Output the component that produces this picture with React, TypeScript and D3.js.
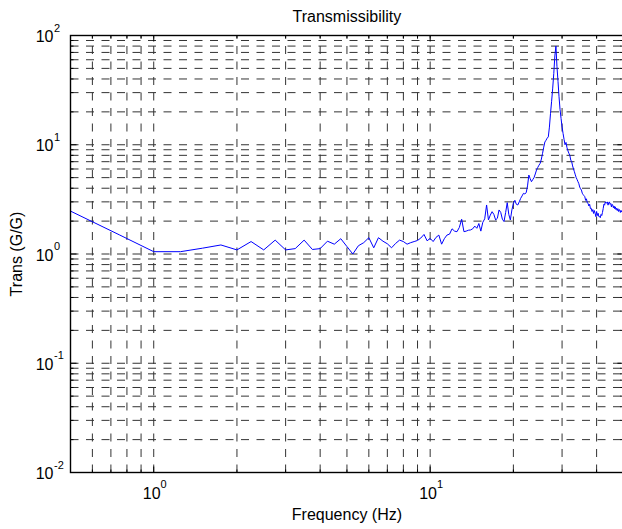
import React from "react";
import * as d3 from "d3";

// ---- data ----
const freqStart = 0.5;
const freqStep = 0.25;
const transValues = [
  2.47, 1.50,
  1.05, 1.05, 1.13, 1.21,
  1.09, 1.30, 1.09, 1.34,
  1.09, 1.12, 1.34, 1.10,
  1.12, 1.31, 1.23, 1.38,
  1.17, 1.00, 1.19, 1.27,
  1.41, 1.14, 1.41, 1.31,
  1.24, 1.14, 1.25, 1.34,
  1.30, 1.23, 1.27, 1.30,
  1.33, 1.40, 1.51, 1.32,
  1.39, 1.30, 1.42, 1.49,
  1.23, 1.38, 1.49, 1.52,
  1.70, 1.62, 1.60, 1.75,
  2.08, 1.60, 1.62, 1.65,
  1.66, 1.70, 1.80, 1.72,
  1.90, 1.62, 1.95, 2.10,
  2.81, 2.05, 2.27, 2.44,
  2.30, 2.05, 2.12, 2.53,
  2.40, 2.08, 1.98, 2.40,
  2.95, 2.30, 2.05, 2.53,
  2.90, 3.10, 2.85, 2.81,
  3.00, 3.23, 3.40, 3.59,
  3.55, 3.64, 4.20, 5.28,
  4.90, 4.59, 4.80, 5.00,
  5.40, 5.87, 6.20, 6.50,
  6.76, 7.40, 8.35, 9.50,
  10.6, 11.0, 11.5, 11.8,
  14.5, 19.4, 25.0, 33.0,
  45.0, 65.0, 80.0, 52.0,
  38.0, 27.5, 21.0, 17.4,
  14.5, 12.7, 11.2, 10.0,
  10.5, 9.4, 8.8, 8.35,
  8.0, 7.24, 7.0, 6.4,
  6.0, 5.66, 5.3, 5.0,
  4.8, 4.59, 4.4, 4.1,
  3.95, 3.85, 3.6, 3.5,
  3.42, 3.35, 3.1, 3.2,
  2.95, 2.91, 2.75, 2.85,
  2.6, 2.62, 2.45, 2.55,
  2.35, 2.5, 2.36, 2.2,
  2.45, 2.25, 2.36, 2.2,
  2.2, 2.15, 2.3, 2.25,
  2.4, 2.6, 2.85, 2.8,
  3.0, 2.91, 2.95, 3.0,
  2.8, 2.95, 3.0, 2.85,
  2.9, 2.7, 2.85, 2.81,
  2.65, 2.75, 2.6, 2.7,
  2.55, 2.62, 2.5, 2.6,
  2.45, 2.55, 2.53, 2.4,
  2.5, 2.42, 2.5, 2.45,
  2.47,
];
const frequencies = transValues.map((_, i) => freqStart + i * freqStep);

const xDomain = [0.5, 50];
const yDomain = [0.01, 100];
const xMajorTicks = [1, 10];
const yMajorTicks = [0.01, 0.1, 1, 10, 100];
const xTickExponents = ["0", "1"];
const yTickExponents = ["-2", "-1", "0", "1", "2"];

const titleText = "Transmissibility";
const xLabelText = "Frequency (Hz)";
const yLabelText = "Trans (G/G)";

// ---- layout ----
const W = 622;
const H = 529;
const left = 70.5;
const right = 623.4;
const top = 35.5;
const bottom = 472.5;
const FONT = "'Liberation Sans', Arial, Helvetica, sans-serif";

export default function App() {
  const x = d3.scaleLog().domain(xDomain).range([left, right]);
  const y = d3.scaleLog().domain(yDomain).range([bottom, top]);

  const xGrid = x.ticks().filter((t) => t > xDomain[0] + 1e-9 && t < xDomain[1] - 1e-9);
  const yGrid = y.ticks().filter((t) => t > yDomain[0] + 1e-12 && t < yDomain[1] - 1e-9);
  const isMajor = (t: number) => Math.abs(Math.log10(t) - Math.round(Math.log10(t))) < 1e-9;

  const line = d3
    .line<number>()
    .x((_, i) => x(frequencies[i]))
    .y((d) => y(d));

  const gridStyle = { stroke: "#333", strokeWidth: 1, strokeDasharray: "8 7.5", fill: "none" };

  return (
    <svg
      width={W}
      height={H}
      style={{ position: "absolute", left: 0, top: 0, background: "#fff" }}
      fontFamily={FONT}
    >
      <rect x={0} y={0} width={W} height={H} fill="#fff" />
      {/* grid */}
      <g>
        {xGrid.map((t) => (
          <line key={"xg" + t} x1={x(t)} x2={x(t)} y1={bottom} y2={top} style={gridStyle} />
        ))}
        {yGrid.map((t) => (
          <line key={"yg" + t} x1={left} x2={right} y1={y(t)} y2={y(t)} style={gridStyle} />
        ))}
      </g>
      {/* ticks */}
      <g stroke="#000" strokeWidth={1}>
        {x.ticks().map((t) => {
          const L = isMajor(t) ? 6 : 3;
          return (
            <g key={"xt" + t}>
              <line x1={x(t)} x2={x(t)} y1={bottom} y2={bottom - L} />
              <line x1={x(t)} x2={x(t)} y1={top} y2={top + L} />
            </g>
          );
        })}
        {y.ticks().map((t) => {
          const L = isMajor(t) ? 6 : 3;
          return (
            <g key={"yt" + t}>
              <line x1={left} x2={left + L} y1={y(t)} y2={y(t)} />
              <line x1={right} x2={right - L} y1={y(t)} y2={y(t)} />
            </g>
          );
        })}
      </g>
      {/* data */}
      <path d={line(transValues) || ""} fill="none" stroke="#0000ff" strokeWidth={1} />
      {/* box */}
      <rect x={left} y={top} width={right - left} height={bottom - top} fill="none" stroke="#000" strokeWidth={1.4} />
      {/* x tick labels */}
      {xMajorTicks.map((t, i) => (
        <text key={"xl" + t} x={x(t) + 1} y={bottom + 26} textAnchor="middle" fontSize={16} fill="#000">
          10
          <tspan dy={-10.5} fontSize={11}>
            {xTickExponents[i]}
          </tspan>
        </text>
      ))}
      {/* y tick labels */}
      {yMajorTicks.map((t, i) => (
        <g key={"yl" + t}>
          <text x={53.5} y={y(t) + 6.5} textAnchor="end" fontSize={16} fill="#000">
            10
          </text>
          <text x={54} y={y(t) - 4} textAnchor="start" fontSize={11} fill="#000">
            {yTickExponents[i]}
          </text>
        </g>
      ))}
      {/* title & labels */}
      <text x={(left + right) / 2} y={22} textAnchor="middle" fontSize={16} fill="#000">
        {titleText}
      </text>
      <text x={(left + right) / 2} y={520} textAnchor="middle" fontSize={16} fill="#000">
        {xLabelText}
      </text>
      <text
        transform={`translate(22, ${(top + bottom) / 2}) rotate(-90)`}
        textAnchor="middle"
        fontSize={16}
        fill="#000"
      >
        {yLabelText}
      </text>
    </svg>
  );
}
